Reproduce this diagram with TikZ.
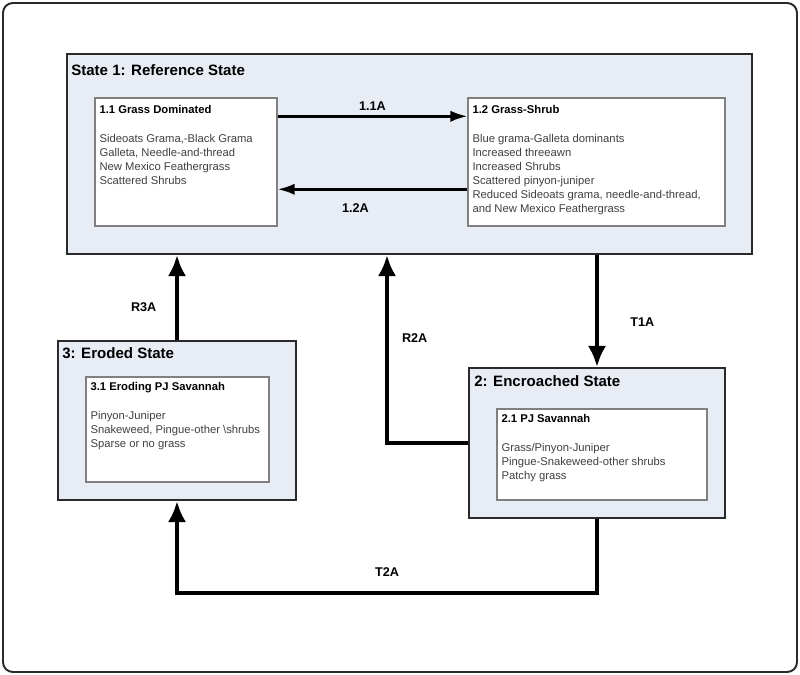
\documentclass[tikz,border=0pt]{standalone}
\usepackage{fontspec}
\setmainfont{Liberation Sans}
\usetikzlibrary{arrows.meta}

\definecolor{stateFill}{HTML}{E8ECF4}
\definecolor{edgeGray}{HTML}{2A2A2A}
\newcommand{\phasehead}[1]{{\color{black}\bfseries #1}}

\tikzset{
    frame/.style={draw=edgeGray, line width=1.4pt, rounded corners=7pt},
    statebox/.style={draw=edgeGray, line width=1.4pt, fill=stateFill, inner sep=0pt},
    phasebox/.style={draw=black!50, line width=1pt, fill=white, inner sep=0pt},
    statetitle/.style={anchor=base west, inner sep=0pt, font=\fontsize{10.7}{13}\selectfont\bfseries},
    phasetext/.style={anchor=north west, inner sep=0pt, align=left, text=black!75,
        font=\fontsize{8}{10}\selectfont},
    lbl/.style={inner sep=1pt, font=\fontsize{9}{10}\selectfont\bfseries},
    flow/.style={line width=1.8pt, >={Latex[length=12pt,width=8pt]}},
    trans/.style={line width=3.4pt, >={Latex[length=15pt,width=13pt]}}
}

\begin{document}
\begin{tikzpicture}[x=0.025cm, y=-0.025cm]
    \def\u{0.025cm}
    \useasboundingbox (0,0) rectangle (800,675);
    \draw[frame] (3,3) rectangle (797,672);

    % states
    \node[statebox, minimum width=685*\u, minimum height=200*\u] (ref) at (409.5,154) {};
    \node[statebox, minimum width=256*\u, minimum height=150*\u] (encr) at (597,443) {};
    \node[statebox, minimum width=238*\u, minimum height=159*\u] (erod) at (177,420.5) {};

    \node[statetitle] (refT) at ([shift={(5,22)}]ref.north west) {State 1: Reference State};
    \node[statetitle] (encrT) at ([shift={(6,19)}]encr.north west) {2: Encroached State};
    \node[statetitle] (erodT) at ([shift={(5,18)}]erod.north west) {3: Eroded State};

    % community phases
    \node[phasebox, minimum width=182*\u, minimum height=128*\u] (grass) at (186,162) {};
    \node[phasebox, minimum width=257*\u, minimum height=128*\u] (shrub) at (596.5,162) {};
    \node[phasebox, minimum width=210*\u, minimum height=91*\u] (pjsav) at (602,454.5) {};
    \node[phasebox, minimum width=183*\u, minimum height=105*\u] (erpj) at (177.5,429.5) {};

    \node[phasetext] (grassT) at ([shift={(5,8)}]grass.north west) {\phasehead{1.1 Grass Dominated}\\[10.5pt]
        Sideoats Grama,-Black Grama\\ Galleta, Needle-and-thread\\
        New Mexico Feathergrass\\ Scattered Shrubs};
    \node[phasetext] (shrubT) at ([shift={(5,8)}]shrub.north west) {\phasehead{1.2 Grass-Shrub}\\[10.5pt]
        Blue grama-Galleta dominants\\ Increased threeawn\\ Increased Shrubs\\
        Scattered pinyon-juniper\\ Reduced Sideoats grama, needle-and-thread,\\
        and New Mexico Feathergrass};
    \node[phasetext] (pjsavT) at ([shift={(5,6)}]pjsav.north west) {\phasehead{2.1 PJ Savannah}\\[10.5pt]
        Grass/Pinyon-Juniper\\ Pingue-Snakeweed-other shrubs\\ Patchy grass};
    \node[phasetext] (erpjT) at ([shift={(5,6)}]erpj.north west) {\phasehead{3.1 Eroding PJ Savannah}\\[10.5pt]
        Pinyon-Juniper\\ Snakeweed, Pingue-other \textbackslash shrubs\\ Sparse or no grass};

    % pathways
    \draw[flow, ->] (grass.north east) ++(0,19) coordinate (g2s) -- (g2s -| shrub.west)
        node[lbl, midway, above=2pt] {1.1A};
    \draw[flow, ->] (shrub.north west) ++(0,92) coordinate (s2g) -- (s2g -| grass.east)
        node[lbl, pos=0.59, below=8pt] {1.2A};

    % transitions
    \coordinate (r2x) at (387,0);
    \draw[trans, ->] (encr.north |- ref.south) -- (encr.north) node[lbl, pos=0.6, right=21pt] {T1A};
    \draw[trans, ->] (erod.north) -- (erod.north |- ref.south) node[lbl, pos=0.39, left=12pt] {R3A};
    \draw[trans, ->] (encr.west) -| (ref.south -| r2x) node[lbl, pos=0.78, right=8pt] {R2A};
    \draw[trans, ->] (encr.south) -- ++(0,74) -| (erod.south) node[lbl, pos=0.25, above=9pt] {T2A};
\end{tikzpicture}
\end{document}
